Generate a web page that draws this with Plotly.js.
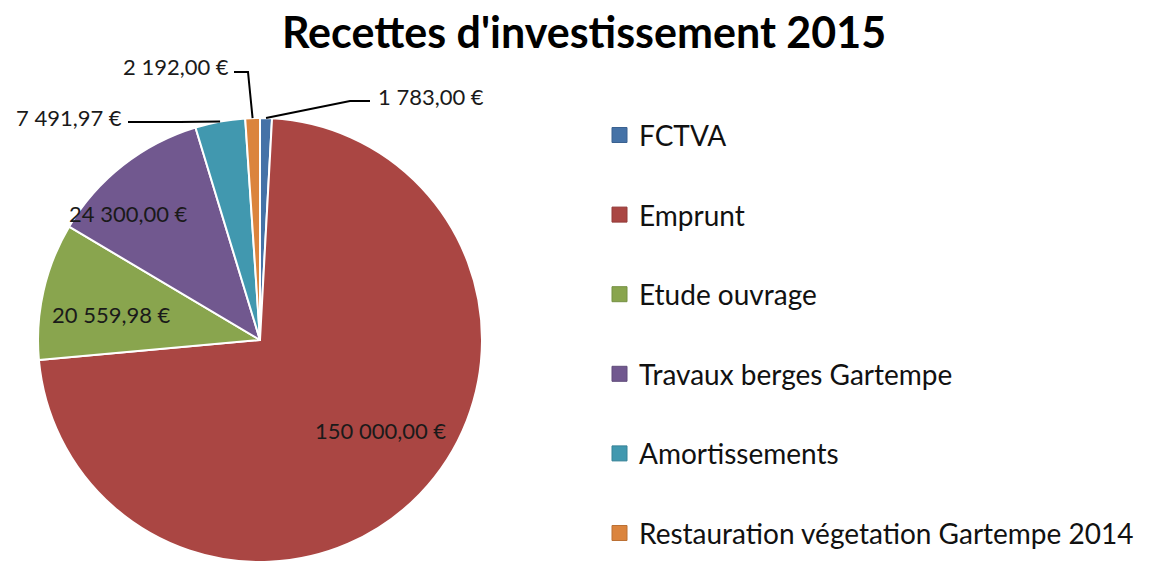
<!DOCTYPE html>
<html><head><meta charset="utf-8">
<script src="https://cdn.plot.ly/plotly-3.0.1.min.js"></script>
<style>html,body{margin:0;padding:0;background:#fff}</style>
</head><body><div id="chart" style="width:1168px;height:563px"></div>
<script>
const title = "Recettes d'investissement 2015";
const categories = ['FCTVA','Emprunt','Etude ouvrage','Travaux berges Gartempe','Amortissements','Restauration végetation Gartempe 2014'];
const values = [1783, 150000, 20559.98, 24300, 7491.97, 2192];
const colors = ['#4572A7','#AA4643','#89A54E','#71588F','#4198AF','#DB843D'];
const borders = ['#3a6190','#923b39','#759043','#604b7a','#378296','#bb7034'];

const W = 1168, H = 563;
const cx = 260, cy = 340, R = 222;
const X = p => p / W, Y = p => 1 - p / H;
function fmt(v){ const [i,d] = v.toFixed(2).split('.'); return i.replace(/\B(?=(\d{3})+(?!\d))/g,' ') + ',' + d + ' €'; }

const total = values.reduce((a,b)=>a+b,0);
const mids = []; let cum = 0;
values.forEach(v => { const a = v/total*360; mids.push(cum + a/2); cum += a; });
const pt = (deg, r) => { const t = deg*Math.PI/180; return [cx + r*Math.sin(t), cy - r*Math.cos(t)]; };

// label placement (style): inside radius factor, or outside text anchor + elbow
const insideR = {1:0.68, 2:0.68, 3:0.82};
const insideShift = {1:-7, 2:-3, 3:-8};
const outside = {
  0:{tx:376, ty:96, anchor:'left', elbow:[350,101], end:[370,101]},
  5:{tx:231, ty:67, anchor:'right', elbow:[248,72], end:[234,72]},
  4:{tx:124, ty:117, anchor:'right', elbow:[180,122], end:[128,122]}
};

const annotations = [], shapes = [];
const lblFont = {family:'Lato, "Open Sans", sans-serif', size:22, color:'#1a1a1a'};
values.forEach((v,i) => {
  if (insideR[i] !== undefined) {
    const [x,y] = pt(mids[i] + insideShift[i], R*insideR[i]);
    annotations.push({x:X(x), y:Y(y), xref:'paper', yref:'paper', text:fmt(v), showarrow:false, xanchor:'center', yanchor:'middle', font:lblFont});
  } else {
    const o = outside[i];
    const [ex,ey] = pt(mids[i], R);
    annotations.push({x:X(o.tx), y:Y(o.ty), xref:'paper', yref:'paper', text:fmt(v), showarrow:false, xanchor:o.anchor, yanchor:'middle', font:lblFont});
    shapes.push({type:'path', xref:'paper', yref:'paper',
      path:`M ${X(ex)} ${Y(ey)} L ${X(o.elbow[0])} ${Y(o.elbow[1])} L ${X(o.end[0])} ${Y(o.end[1])}`,
      line:{color:'#000', width:2}});
  }
});

// manual legend
const legX = 612, legTextX = 637, legY0 = 135, legStep = 79.6, sq = 15;
categories.forEach((c,i) => {
  const y = legY0 + i*legStep;
  shapes.push({type:'rect', xref:'paper', yref:'paper', x0:X(legX), x1:X(legX+sq), y0:Y(y-sq/2), y1:Y(y+sq/2), fillcolor:colors[i], line:{color:borders[i], width:1}});
  annotations.push({x:X(legTextX), y:Y(y), xref:'paper', yref:'paper', text:c, showarrow:false, xanchor:'left', yanchor:'middle', font:{family:'Lato, "Open Sans", sans-serif', size:28, color:'#111'}});
});

const trace = {
  type:'pie', values:values, labels:categories, sort:false, direction:'clockwise', rotation:0,
  marker:{colors:colors, line:{color:'#ffffff', width:2}},
  textinfo:'none', hoverinfo:'label+value', automargin:false,
  domain:{x:[X(cx-R), X(cx+R)], y:[Y(cy+R), Y(cy-R)]}
};

const layout = {
  width:W, height:H, margin:{l:0,r:0,t:0,b:0}, paper_bgcolor:'#fff', showlegend:false,
  title:{text:'<b>'+title+'</b>', x:0.5, xanchor:'center', xref:'paper', y:Y(33), yanchor:'middle', yref:'paper',
    font:{family:'Lato, "Open Sans", sans-serif', size:43, color:'#000'}},
  annotations:annotations, shapes:shapes
};
Plotly.newPlot('chart', [trace], layout, {displayModeBar:false, staticPlot:true});
</script></body></html>
